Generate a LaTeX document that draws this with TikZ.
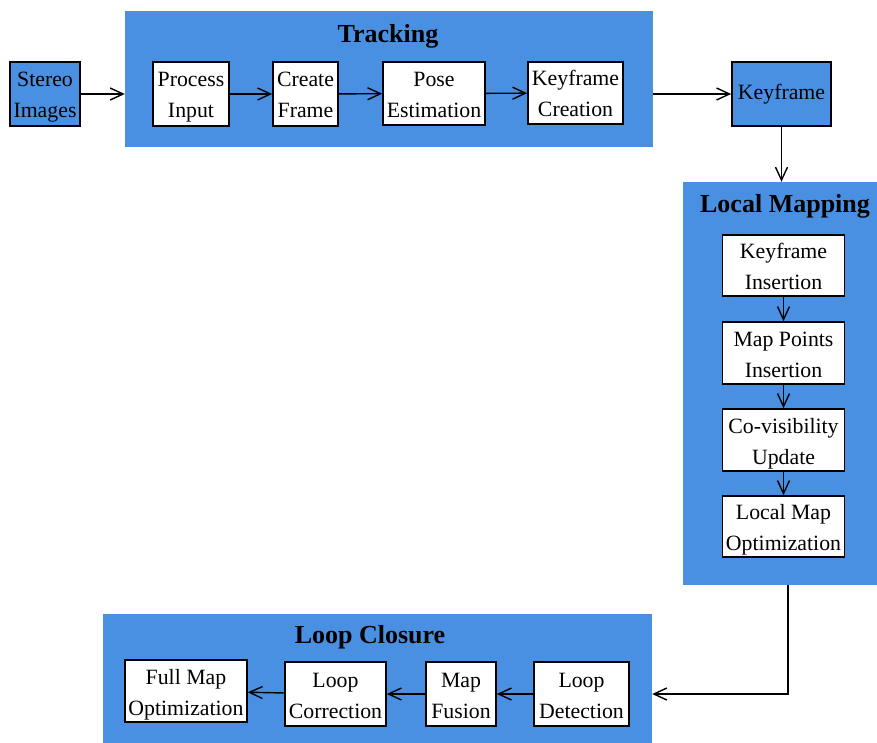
\documentclass[tikz,border=0pt]{standalone}
\usepackage{fontspec}
\setmainfont{Liberation Serif}
\usetikzlibrary{arrows.meta}
\definecolor{groupblue}{HTML}{4A90E2}
\newcommand{\colW}{122}
\newcommand{\rowH}{62}

\begin{document}
\begin{tikzpicture}[x=1pt,y=-1pt,
    group/.style={fill=groupblue, draw=none, minimum width=#1},
    stepbox/.style={draw=black, line width=1.6pt, fill=white, align=center, inner sep=0pt,
        text height=50pt, text depth=2pt, font=\fontsize{21.8}{31}\selectfont},
    title/.style={font=\fontsize{26}{30}\selectfont\bfseries},
    flow/.style={-{Straight Barb[length=13pt,width=12pt]}, line width=1.4pt}]

        % Fix the page size and cut what runs over the edges
        \useasboundingbox (0,0) rectangle (877,743);
        \clip (0,0) rectangle (877,743);

        % Draw the three blue group areas
        \node[group=528, minimum height=136] (tracking) at (389,79) {};
        \node[group=204, minimum height=403] (localmap) at (785,383.5) {};
        \node[group=549, minimum height=156] (loopclosure) at (377.5,692) {};

        % Group titles
        \node[title] (trackingtitle) at (388,36) {Tracking};
        \node[title] (localmaptitle) at (785,206) {Local Mapping};
        \node[title] (loopclosuretitle) at (370,637) {Loop Closure};

        % Input and output boxes
        \node[stepbox, fill=groupblue, minimum width=70, minimum height=64] (stereo) at (45,94) {Stereo\\Images};
        \node[stepbox, fill=groupblue, minimum width=99, minimum height=64,
            text height=15pt, text depth=4pt] (keyframe) at (781.5,94) {Keyframe};

        % Tracking steps
        \node[stepbox, minimum width=76, minimum height=64] (process) at (191,94) {Process\\Input};
        \node[stepbox, minimum width=65, minimum height=64] (create) at (305.5,94) {Create\\Frame};
        \node[stepbox, minimum width=102, minimum height=63] (pose) at (434,93.5) {Pose\\Estimation};
        \node[stepbox, minimum width=95, minimum height=\rowH] (kfcreation) at (575.5,93) {Keyframe\\Creation};

        % Local mapping steps
        \node[stepbox, minimum width=\colW, minimum height=61] (kfinsert) at (783.5,265.5) {Keyframe\\Insertion};
        \node[stepbox, minimum width=\colW, minimum height=\rowH] (mpinsert) at (783.5,353) {Map Points\\Insertion};
        \node[stepbox, minimum width=\colW, minimum height=\rowH] (covis) at (783.5,440) {Co-visibility\\Update};
        \node[stepbox, minimum width=\colW, minimum height=61] (localopt) at (783.5,526.5) {Local Map\\Optimization};

        % Loop closure steps
        \node[stepbox, minimum width=\colW, minimum height=\rowH] (fullopt) at (186,691) {Full Map\\Optimization};
        \node[stepbox, minimum width=101, minimum height=64] (correction) at (335.5,694) {Loop\\Correction};
        \node[stepbox, minimum width=70, minimum height=64] (fusion) at (461,694) {Map\\Fusion};
        \node[stepbox, minimum width=95, minimum height=64] (detection) at (581.5,694) {Loop\\Detection};

        % Connections
        \draw[flow] (stereo) -- (stereo -| tracking.west);
        \draw[flow] (process) -- (create);
        \draw[flow] (create) -- (pose);
        \draw[flow] (pose) -- (kfcreation);
        \draw[flow] (tracking.east |- keyframe) -- (keyframe);
        \draw[flow] (keyframe) -- (keyframe |- localmap.north);
        \draw[flow] (kfinsert) -- (mpinsert);
        \draw[flow] (mpinsert) -- (covis);
        \draw[flow] (covis) -- (localopt);
        \draw[flow] ([xshift=3pt]localmap.south) |- (loopclosure.east |- detection);
        \draw[flow] (detection) -- (fusion);
        \draw[flow] (fusion) -- (correction);
        \draw[flow] (correction) -- (fullopt);
    \end{tikzpicture}
\end{document}
